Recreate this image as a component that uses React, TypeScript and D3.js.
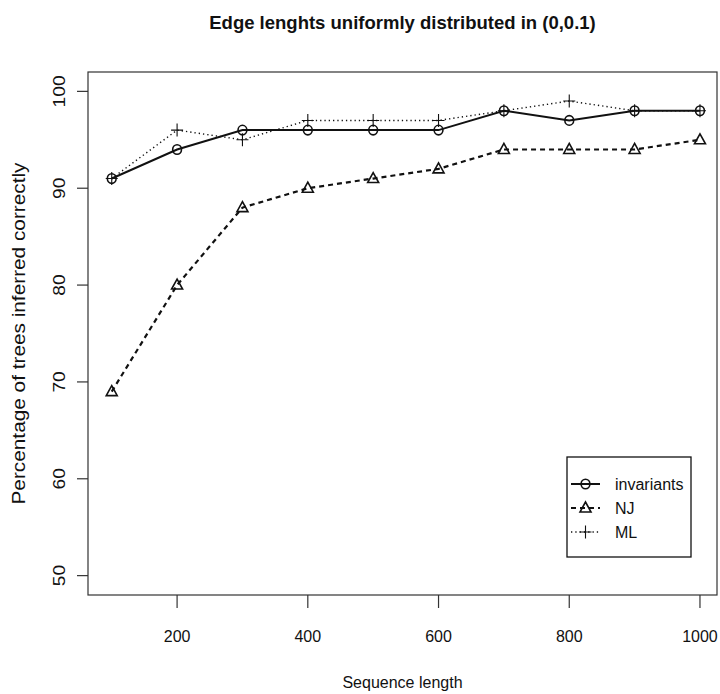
import React from 'react';
import * as d3 from 'd3';

const seqLengths = [100, 200, 300, 400, 500, 600, 700, 800, 900, 1000];
const invariants = [91, 94, 96, 96, 96, 96, 98, 97, 98, 98];
const nj = [69, 80, 88, 90, 91, 92, 94, 94, 94, 95];
const ml = [91, 96, 95, 97, 97, 97, 98, 99, 98, 98];

const xTicks = [200, 400, 600, 800, 1000];
const yTicks = [50, 60, 70, 80, 90, 100];

const W = 720;
const H = 694;
const font = '"Liberation Sans", Arial, Helvetica, sans-serif';
const ink = '#111';

const plot = { left: 88, right: 717, top: 72, bottom: 595 };

const App = () => {
  // R style: 4% padding on each side of the data range
  const x = d3.scaleLinear().domain([64, 1036]).range([88.2, 723.5]);
  const y = d3.scaleLinear().domain([48, 102]).range([plot.bottom, plot.top]);

  const line = d3
    .line<number>()
    .x((d, i) => x(seqLengths[i]))
    .y(d => y(d));

  const circle = (cx, cy, key) => (
    <ellipse key={key} cx={cx} cy={cy} rx={4.4} ry={4.8} fill="none" stroke={ink} strokeWidth={1.6} />
  );
  const triangle = (cx, cy, key) => (
    <path
      key={key}
      d={`M${cx},${cy - 6}L${cx + 5.5},${cy + 4}L${cx - 5.5},${cy + 4}Z`}
      fill="none"
      stroke={ink}
      strokeWidth={1.6}
    />
  );
  const plus = (cx, cy, key) => (
    <path
      key={key}
      d={`M${cx - 6},${cy}H${cx + 6}M${cx},${cy - 6.5}V${cy + 6.5}`}
      stroke={ink}
      strokeWidth={1.1}
      fill="none"
    />
  );

  const series = [
    { name: 'invariants', values: invariants, dash: null, width: 2, sym: circle },
    { name: 'NJ', values: nj, dash: '5,4', width: 2.2, sym: triangle },
    { name: 'ML', values: ml, dash: '1.3,3', width: 1.4, sym: plus }
  ];

  const legend = { x: 567, y: 457, w: 124, h: 100 };

  return (
    <svg width={W} height={H} style={{ position: 'absolute', left: 0, top: 0, background: '#fff' }}>
      <text
        x={(plot.left + plot.right) / 2}
        y={29}
        textAnchor="middle"
        fontFamily={font}
        fontWeight="bold"
        fontSize={18.5}
        fill={ink}
      >
        Edge lenghts uniformly distributed in (0,0.1)
      </text>

      {/* plot frame */}
      <rect
        x={plot.left}
        y={plot.top}
        width={plot.right - plot.left}
        height={plot.bottom - plot.top}
        fill="none"
        stroke="#333"
        strokeWidth={1.2}
      />

      {/* x axis */}
      {xTicks.map(t => (
        <g key={t}>
          <line x1={x(t)} x2={x(t)} y1={plot.bottom} y2={plot.bottom + 13} stroke="#333" strokeWidth={1.2} />
          <text x={x(t)} y={642} textAnchor="middle" fontFamily={font} fontSize={16} fill={ink}>
            {t}
          </text>
        </g>
      ))}
      <text x={(plot.left + plot.right) / 2} y={688} textAnchor="middle" fontFamily={font} fontSize={16} fill={ink}>
        Sequence length
      </text>

      {/* y axis, rotated labels come out stretched along their length */}
      {yTicks.map(t => (
        <g key={t}>
          <line x1={plot.left - 11} x2={plot.left} y1={y(t)} y2={y(t)} stroke="#333" strokeWidth={1.2} />
          <text
            transform={`translate(65,${y(t)}) rotate(-90) scale(1.2,1)`}
            textAnchor="middle"
            fontFamily={font}
            fontSize={16}
            fill={ink}
          >
            {t}
          </text>
        </g>
      ))}
      <text
        transform={`translate(25,${(plot.top + plot.bottom) / 2}) rotate(-90)`}
        textAnchor="middle"
        fontFamily={font}
        fontSize={17.5}
        textLength={342}
        lengthAdjust="spacingAndGlyphs"
        fill={ink}
      >
        Percentage of trees inferred correctly
      </text>

      {/* series */}
      {series.map(s => (
        <g key={s.name}>
          <path
            d={line(s.values)}
            fill="none"
            stroke={ink}
            strokeWidth={s.width}
            strokeDasharray={s.dash || undefined}
          />
          {s.values.map((v, i) => s.sym(x(seqLengths[i]), y(v), i))}
        </g>
      ))}

      {/* legend */}
      <rect x={legend.x} y={legend.y} width={legend.w} height={legend.h} fill="#fff" stroke={ink} strokeWidth={1.3} />
      {series.map((s, i) => {
        const ly = 484 + i * 24;
        return (
          <g key={s.name}>
            <line
              x1={571}
              x2={600}
              y1={ly}
              y2={ly}
              stroke={ink}
              strokeWidth={s.width}
              strokeDasharray={s.dash || undefined}
            />
            {s.sym(585.5, ly, 'l' + i)}
            <text x={615} y={ly + 6} fontFamily={font} fontSize={16} fill={ink}>
              {s.name}
            </text>
          </g>
        );
      })}
    </svg>
  );
};

export default App;
